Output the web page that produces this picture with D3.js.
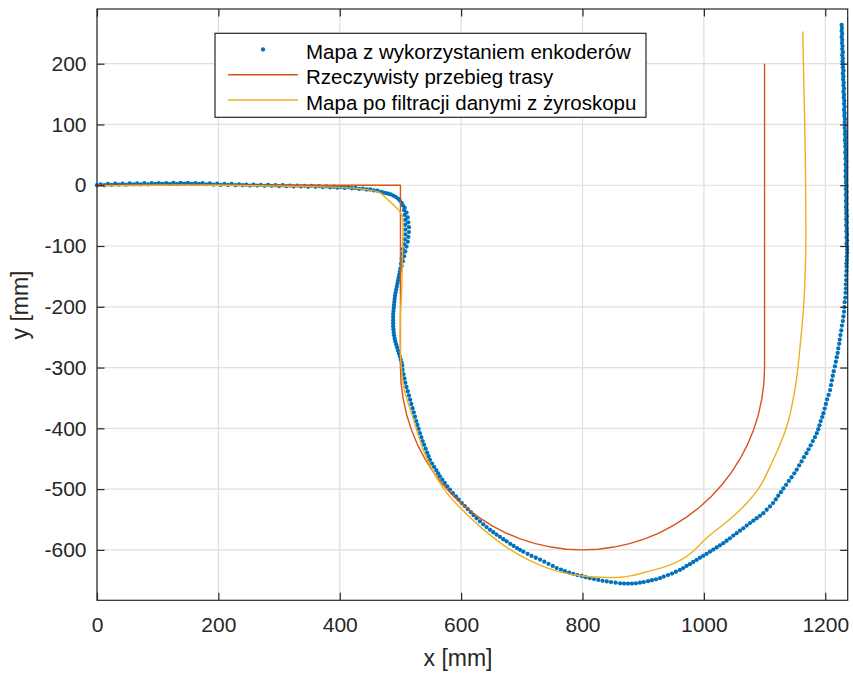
<!DOCTYPE html>
<html>
<head>
<meta charset="utf-8">
<script src="https://cdn.jsdelivr.net/npm/d3@7/dist/d3.min.js"></script>
<style>
  html, body { margin: 0; padding: 0; background: #ffffff; }
  svg { display: block; font-family: "Liberation Sans", Arial, Helvetica, sans-serif; }
</style>
</head>
<body>
<svg id="chart" width="853" height="674"></svg>
<script>
// Series names shown in the legend
const seriesNames = [
  "Mapa z wykorzystaniem enkoderów",
  "Rzeczywisty przebieg trasy",
  "Mapa po filtracji danymi z żyroskopu"
];

// Tick labels
const xTicks = [0, 200, 400, 600, 800, 1000, 1200];
const yTicks = [-600, -500, -400, -300, -200, -100, 0, 100, 200];

// Encoder-based map: sampled robot positions [x, y] in mm
const encoderMap = [
  // straight start
  [0,0],[6,1.5],[12,0],[18,2],[24,0.5],[30,2.5],[36,1],[42,2.5],[48,1],[54,3],
  [60,1.5],[66,3],[72,1.5],[78,3.5],[84,1.5],[90,3.5],[96,2],[102,3.5],[108,2],[114,3.5],
  [120,2],[126,4],[132,2],[138,4],[144,2.5],[150,4],[156,2],[162,3.5],[168,2],[174,3.5],
  [180,1.5],[186,3],[192,1],[198,2.5],[204,0.5],[210,2],[216,0.5],[222,2],[228,0],[234,1.5],
  [240,0],[246,1],[252,-0.5],[258,1],[264,-0.5],[270,0.5],[276,-1],[282,0.5],[288,-1],[294,0],
  [300,-1.5],[306,0],[312,-1.5],[318,-0.5],[324,-2],[330,-0.5],[336,-2],[342,-1],[348,-2.5],[354,-1],
  [360,-2.5],[366,-1.5],[372,-3],[378,-2],[384,-3.5],[390,-2.5],[396,-4],[402,-3],[408,-4.5],[414,-3.5],
  [420,-5],[426,-4.5],[432,-6],[438,-5.5],[444,-7],[450,-7],[456,-8.5],[462,-9],
  // first turn
  [468,-11],[472,-12],[476,-13],[480,-14],[484,-15],[488,-17],[492,-19],[496,-22],[499,-25],[502,-29],
  [504,-33],[507,-37],[506,-41],[510,-45],[507,-49],[512,-53],[508,-57],[513,-61],[508,-65],[514,-69],
  [508,-73],[514,-77],[508,-81],[513,-85],[507,-89],[512,-93],[506,-97],[510,-101],[504,-105],[508,-109],
  [503,-113],[506,-117],[502,-121],[504,-125],[501,-129],[502,-133],[500,-137],[499,-142],[498,-147],[497,-152],
  [496,-157],[495,-162],[494,-167],[493,-172],[492,-177],[491,-182],[490.5,-187],[490,-192],[489.5,-197],[489,-202],
  [488.5,-207],[488,-212],[488,-217],[488,-222],[488,-227],[488,-232],[488.5,-237],[489,-242],[489.5,-247],[490.5,-252],
  [491.5,-257],[493,-262],[494.5,-267],[496,-272],[497.5,-277],[499,-282],[500.5,-287],[502,-292],[503,-297],
  // large arc
  [503.5,-304],[505,-311],[506.5,-318],[508,-325],[510,-332],[512,-339],[514,-346],[516,-353],
  [518,-360],[520,-367],[522,-374],[524,-381],[526,-388],[528,-394.5],[530,-401],[532,-408],
  [534.3,-414.5],[536.6,-421],[539,-427],[541.5,-433.5],[544,-440],[546.3,-446],[548.7,-452],
  [552,-458],[555.5,-463.5],[559,-469],[562,-474],[565,-479],
  [569,-484.5],[573,-490],[577,-495.5],[581.6,-501],
  [586.5,-506.5],[591.5,-512],[596,-517.5],[601,-523],
  [606,-528],[611,-533],[616,-538],[620.5,-543],[625.6,-548],
  [631,-553],[636.5,-558],[642,-562.5],[647.6,-567],
  [653,-571],[658.5,-575],[664,-578.5],[669.5,-582.5],[675,-586],
  [681,-590],[686.5,-593.5],[692,-597],[697,-600],[702.5,-603],
  [709.5,-606.5],[716,-610],[723,-613],[730,-616],
  [737,-619.5],[744,-623],[751,-626.5],[757.5,-630],
  [764.5,-632.5],[771,-635],[778,-637.5],[784.8,-639.5],
  [791.5,-641.5],[798.5,-643],[805,-645],[812,-646.6],
  [819,-648],[826,-649.5],[833,-651],[840,-652],
  [847,-653],[854.5,-654],[862,-655],
  [868.5,-655.5],[875,-655.5],[881.5,-655.5],[888,-655],[894.7,-654],
  [901,-653],[908,-651.5],[914.5,-650],[921,-648.5],[927.7,-646.6],
  [934,-644],[941,-641.5],[947.5,-639],[954,-636],[960.6,-633],
  [966,-630],[971.5,-626.5],[977,-623.5],[982.5,-620],[988,-616.5],
  [993.5,-613],[999,-610],[1004.5,-606.5],[1010,-603],
  [1015.5,-599.5],[1021,-596],[1026.5,-592.5],[1032,-589],
  [1037.5,-585],[1043,-581],[1048.5,-576.5],[1054,-572.5],
  [1059.5,-568.5],[1065,-564.5],[1070.5,-560],[1076,-556],
  [1081.5,-552],[1087,-548],[1092.5,-544],[1098,-539.6],
  [1103.5,-534],[1109,-528.5],[1114,-523],
  [1118.5,-517],[1122.5,-511],[1127,-505],[1131,-499],
  [1135.5,-493],[1140,-486.5],[1144.5,-480.5],[1149,-474],[1153,-468],
  [1157,-461],[1161,-454.5],[1165,-447.5],[1169,-441],
  [1172.5,-434.5],[1176,-428],[1179.5,-421],[1183,-414.5],[1186,-408],
  [1188.5,-401.5],[1190.5,-395],[1192.5,-388],[1195,-381.5],[1197,-375],
  [1199,-367.5],[1201,-360],[1203,-352.5],[1205.5,-345],[1208,-337],
  [1209.5,-329],[1211,-321],[1212.5,-313.5],[1214,-306],[1216,-298],
  [1217.5,-290.5],[1219,-283],[1220.5,-276],[1221.5,-268.5],[1223,-261],[1224,-254],
  [1225,-246.5],[1226.5,-239],[1227.5,-231],[1229,-223.5],[1230,-216],
  [1231,-208],[1231.5,-200.5],[1232,-192.5],[1233,-185],[1233.5,-177],
  [1234,-170],[1234,-163],[1234.5,-156],[1234.5,-148.5],[1235,-141],[1235,-134],
  [1235,-128.5],[1235.5,-123],[1235.5,-117],[1236,-111.5],[1236,-106],
  // final straight
  [1236,-101],[1235,-96],[1236,-91],[1235,-86],[1236,-81],[1235,-76],[1235.5,-71],[1234.5,-66],[1235.5,-61],[1234.5,-56],
  [1235.5,-51],[1234.5,-46],[1235,-41],[1234,-36],[1235,-31],[1234,-26],[1235,-21],[1234,-16],[1235,-11],[1234,-6],
  [1235,-1],[1234,4],[1234.5,9],[1233.5,14],[1234.5,19],[1233.5,24],[1234.5,29],[1233.5,34],[1234.5,39],[1233.5,44],
  [1234,49],[1233,54],[1234,59],[1233,64],[1233.5,69],[1232.5,74],[1233.5,79],[1232.5,84],[1233,89],[1232,94],
  [1233,99],[1232,104],[1232.5,109],[1231.5,114],[1232,119],[1231,124],[1232,129],[1231,134],[1231.5,139],[1230.5,144],
  [1231,149],[1230,154],[1231,159],[1230,164],[1230.5,169],[1229.5,174],[1230,179],[1229,184],[1230,189],[1229,194],
  [1229.5,199],[1228.5,204],[1229,209],[1228,214],[1229,219],[1228,224],[1228.5,229],[1227.5,234],[1228,239],[1227,244],
  [1228,249],[1227,254],[1227.5,259],[1227,264]
];

// Reference route: straight, 90° turn, semicircle (r = 300 mm, every 5°), straight
const realRoute = [
  [0,0],[500,0],[500,-300],
  [501.1,-326.1],[504.6,-352.1],[510.2,-377.6],[518.1,-402.6],[528.1,-426.8],[540.2,-450],
  [554.3,-472.1],[570.2,-492.8],[587.9,-512.1],[607.2,-529.8],[627.9,-545.7],[650,-559.8],
  [673.2,-571.9],[697.4,-581.9],[722.4,-589.8],[747.9,-595.4],[773.9,-598.9],[800,-600],
  [826.1,-598.9],[852.1,-595.4],[877.6,-589.8],[902.6,-581.9],[926.8,-571.9],[950,-559.8],
  [972.1,-545.7],[992.8,-529.8],[1012.1,-512.1],[1029.8,-492.8],[1045.7,-472.1],[1059.8,-450],
  [1071.9,-426.8],[1081.9,-402.6],[1089.8,-377.6],[1095.4,-352.1],[1098.9,-326.1],[1100,-300],
  [1100,200]
];

// Map after gyroscope-based filtering
const gyroMap = [
  [0,-1],[100,0],[200,0],[300,-1.5],[400,-3.5],[440,-6.5],[466,-12],[477,-22],[488,-32],[497,-41],
  [502,-49],[504,-62],[504,-90],[503,-130],[502,-172],[500,-215],[499.5,-255],[500.5,-285],[503,-315],[506,-335],
  [511,-353],[517,-372],[526,-400],[537,-434],[550,-463],[563,-487],[577,-507],[591,-523],[606,-538],[625,-556],
  [647,-575],[674,-595],[702,-612],[730,-625],[758,-635],[780,-640],[800,-643],[829,-645],[862,-645],[883,-642],
  [910,-635],[935,-628],[955,-620],[970,-612],[983,-602],[994,-591],[1004,-581],[1016,-571],[1030,-560],[1048,-545],
  [1062,-532],[1076,-517],[1088,-502],[1098,-486],[1110,-461],[1122,-435],[1132,-410],[1140,-385],[1146,-358],[1151,-330],
  [1155,-300],[1158,-271],[1161,-240],[1164,-205],[1166,-170],[1167,-139],[1168,-106],[1168,-50],[1167,58],[1166,110],
  [1164,200],[1163,253]
];

const colors = { encoder: "#0072BD", real: "#D95319", gyro: "#EDB120" };

const svg = d3.select("#chart");
const plot = { left: 97, top: 9, right: 847.7, bottom: 600.3 };

const x = d3.scaleLinear().domain([0, 1237]).range([plot.left, plot.right]);
const y = d3.scaleLinear().domain([-683, 290]).range([plot.bottom, plot.top]);

const axisColor = "#262626";
const gridColor = "#dfdfdf";

// grid
const grid = svg.append("g");
grid.selectAll("line.gx").data(xTicks).join("line")
  .attr("x1", d => x(d)).attr("x2", d => x(d))
  .attr("y1", plot.top).attr("y2", plot.bottom)
  .attr("stroke", gridColor).attr("stroke-width", 1.2);
grid.selectAll("line.gy").data(yTicks).join("line")
  .attr("x1", plot.left).attr("x2", plot.right)
  .attr("y1", d => y(d)).attr("y2", d => y(d))
  .attr("stroke", gridColor).attr("stroke-width", 1.2);

// encoder samples
svg.append("g").selectAll("circle").data(encoderMap).join("circle")
  .attr("cx", d => x(d[0])).attr("cy", d => y(d[1]))
  .attr("r", 2.15).attr("fill", colors.encoder);

const line = d3.line().x(d => x(d[0])).y(d => y(d[1]));

svg.append("path").datum(realRoute)
  .attr("d", line)
  .attr("fill", "none").attr("stroke", colors.real).attr("stroke-width", 1.4)
  .attr("stroke-linejoin", "round");

svg.append("path").datum(gyroMap)
  .attr("d", d3.line().x(d => x(d[0])).y(d => y(d[1])).curve(d3.curveCatmullRom.alpha(0.5)))
  .attr("fill", "none").attr("stroke", colors.gyro).attr("stroke-width", 1.4);

// axes (inward ticks on all four sides)
const tickLen = 7.5;
const fontSize = 21;
const plainNumber = d => String(d);

function styleAxis(g) {
  g.select(".domain").remove();
  g.selectAll(".tick line").attr("stroke", axisColor).attr("stroke-width", 1.2);
  g.selectAll(".tick text").attr("fill", axisColor).style("font-size", fontSize + "px")
    .style("font-family", "'Liberation Sans', Arial, Helvetica, sans-serif");
}

svg.append("g").attr("transform", `translate(0,${plot.bottom})`)
  .call(d3.axisBottom(x).tickValues(xTicks).tickFormat(plainNumber)
    .tickSizeInner(-tickLen).tickSizeOuter(0).tickPadding(16.5))
  .call(styleAxis);
svg.append("g").attr("transform", `translate(0,${plot.top})`)
  .call(d3.axisTop(x).tickValues(xTicks).tickSizeInner(-tickLen).tickSizeOuter(0).tickFormat(""))
  .call(styleAxis);
svg.append("g").attr("transform", `translate(${plot.left},0)`)
  .call(d3.axisLeft(y).tickValues(yTicks).tickFormat(plainNumber)
    .tickSizeInner(-tickLen).tickSizeOuter(0).tickPadding(10.5))
  .call(styleAxis);
svg.append("g").attr("transform", `translate(${plot.right},0)`)
  .call(d3.axisRight(y).tickValues(yTicks).tickSizeInner(-tickLen).tickSizeOuter(0).tickFormat(""))
  .call(styleAxis);

// box
svg.append("rect")
  .attr("x", plot.left).attr("y", plot.top)
  .attr("width", plot.right - plot.left).attr("height", plot.bottom - plot.top)
  .attr("fill", "none").attr("stroke", axisColor).attr("stroke-width", 1.2);

// axis labels
svg.append("text")
  .attr("x", 458).attr("y", 666)
  .attr("text-anchor", "middle").attr("fill", axisColor)
  .style("font-size", "23px").text("x [mm]");
svg.append("text")
  .attr("transform", "translate(28,305) rotate(-90)")
  .attr("text-anchor", "middle").attr("fill", axisColor)
  .style("font-size", "23px").text("y [mm]");

// legend
const legend = svg.append("g");
legend.append("rect")
  .attr("x", 215).attr("y", 33.3).attr("width", 431).attr("height", 84)
  .attr("fill", "#ffffff").attr("stroke", axisColor).attr("stroke-width", 1.2);
const rowBase = [58.5, 84.2, 109.5];
const sampleX = [228, 298];
const textX = 306;
legend.append("circle")
  .attr("cx", (sampleX[0] + sampleX[1]) / 2).attr("cy", rowBase[0] - 9)
  .attr("r", 2.15).attr("fill", colors.encoder);
legend.append("line")
  .attr("x1", sampleX[0]).attr("x2", sampleX[1])
  .attr("y1", rowBase[1] - 9.5).attr("y2", rowBase[1] - 9.5)
  .attr("stroke", colors.real).attr("stroke-width", 1.4);
legend.append("line")
  .attr("x1", sampleX[0]).attr("x2", sampleX[1])
  .attr("y1", rowBase[2] - 9.5).attr("y2", rowBase[2] - 9.5)
  .attr("stroke", colors.gyro).attr("stroke-width", 1.4);
legend.selectAll("text.lbl").data(seriesNames).join("text")
  .attr("x", textX).attr("y", (d, i) => rowBase[i])
  .attr("fill", "#000000").style("font-size", "20.5px")
  .text(d => d);
</script>
</body>
</html>
